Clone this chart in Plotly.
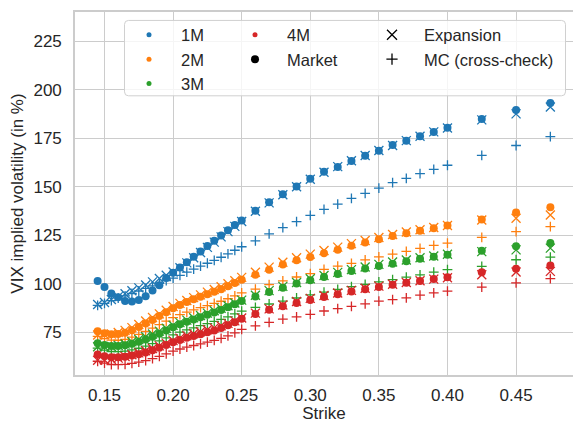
import plotly.graph_objects as go

# ---------------- data ----------------
strikes = [0.145, 0.150, 0.155, 0.160, 0.165, 0.170, 0.175, 0.180, 0.185, 0.190,
           0.195, 0.200, 0.205, 0.210, 0.215, 0.220, 0.225, 0.230, 0.235, 0.240,
           0.245, 0.250,
           0.26, 0.27, 0.28, 0.29, 0.30, 0.31, 0.32, 0.33, 0.34, 0.35, 0.36, 0.37,
           0.38, 0.39, 0.40,
           0.425, 0.45, 0.475]

maturities = ["1M", "2M", "3M", "4M"]

market_1m = [101.3, 98.2, 94.9, 93.0, 91.0, 90.8, 91.6, 93.5, 96.5, 99.1,
             102.9, 105.6, 108.3, 111.0, 113.8, 116.5, 119.4, 122.1, 124.8, 127.5,
             130.2, 132.5,
             137.5, 141.9, 146.0, 150.0, 154.0, 157.6, 160.1, 163.2, 165.9, 168.5,
             171.4, 173.6, 176.0, 178.1, 180.3,
             184.9, 189.5, 193.1]
expansion_1m = [89.2, 90.3, 91.8, 93.3, 94.8, 96.3, 97.8, 99.3, 100.9, 102.6,
                104.3, 106.0, 108.2, 110.7, 113.3, 116.0, 118.7, 121.4, 124.1, 126.8,
                129.5, 132.0,
                137.3, 141.6, 145.8, 149.9, 153.8, 157.4, 160.3, 163.3, 166.0, 168.6,
                171.2, 173.7, 176.0, 178.2, 180.2,
                184.4, 187.5, 191.0]
mc_1m = [88.8, 89.8, 91.2, 92.5, 93.7, 94.9, 96.2, 97.5, 98.8, 100.2,
         101.5, 102.8, 104.3, 105.9, 107.5, 109.0, 110.5, 112.0, 113.6, 115.3,
         117.2, 119.0,
         122.0, 125.6, 128.9, 132.0, 135.2, 138.3, 141.0, 143.9, 146.5, 149.2,
         152.1, 154.2, 156.7, 158.9, 161.0,
         166.1, 171.2, 175.8]

market_2m = [75.4, 74.4, 73.9, 74.0, 74.7, 76.0, 77.6, 79.4, 81.3, 83.3,
             85.3, 87.3, 89.0, 90.5, 91.9, 93.2, 94.5, 95.8, 97.1, 98.6,
             100.3, 102.0,
             104.6, 107.1, 109.8, 112.0, 113.7, 115.7, 117.5, 119.5, 121.2, 122.9,
             124.6, 126.0, 127.3, 128.6, 129.9,
             133.1, 136.6, 139.3]
expansion_2m = [73.5, 73.6, 74.0, 74.8, 75.9, 77.3, 78.9, 80.7, 82.5, 84.4,
                86.3, 88.2, 89.8, 91.3, 92.8, 94.2, 95.6, 97.0, 98.4, 99.9,
                101.5, 103.2,
                105.9, 108.5, 111.0, 113.3, 115.2, 117.1, 118.8, 120.6, 122.2, 123.8,
                125.3, 126.6, 127.8, 128.9, 130.0,
                132.8, 133.7, 135.4]
mc_2m = [72.8, 71.6, 70.9, 70.8, 71.3, 72.4, 73.8, 75.4, 77.1, 78.9,
         80.7, 82.5, 84.0, 85.3, 86.5, 87.6, 88.7, 89.8, 90.9, 92.2,
         93.7, 95.2,
         97.2, 99.5, 101.4, 103.4, 105.2, 107.3, 109.0, 110.4, 112.2, 113.8,
         115.2, 116.6, 118.2, 119.7, 120.9,
         123.8, 126.8, 129.4]

market_3m = [69.3, 68.3, 67.8, 67.8, 68.2, 69.0, 70.0, 71.2, 72.6, 74.1,
             75.8, 77.5, 79.0, 80.3, 81.5, 82.7, 83.9, 85.1, 86.4, 87.8,
             89.4, 91.0,
             93.3, 95.7, 97.9, 100.0, 101.7, 103.4, 105.0, 106.5, 107.8, 109.1,
             110.3, 111.5, 112.8, 113.8, 114.9,
             116.9, 119.2, 120.9]
expansion_3m = [67.5, 67.4, 67.6, 68.1, 68.9, 70.0, 71.2, 72.6, 74.0, 75.5,
                77.0, 78.5, 79.9, 81.2, 82.4, 83.6, 84.8, 86.0, 87.3, 88.6,
                90.0, 91.5,
                94.0, 96.4, 98.6, 100.6, 102.5, 104.2, 105.8, 107.2, 108.6, 109.9,
                111.1, 112.2, 113.3, 114.2, 115.1,
                116.5, 117.4, 118.3]
mc_3m = [66.8, 65.7, 65.0, 64.9, 65.2, 65.9, 66.7, 67.8, 69.1, 70.5,
         72.0, 73.6, 75.0, 76.2, 77.2, 78.3, 79.4, 80.5, 81.6, 82.9,
         84.4, 85.8,
         87.8, 89.5, 91.0, 92.6, 94.2, 95.6, 97.0, 98.4, 99.6, 100.9,
         102.1, 103.3, 104.5, 105.9, 107.2,
         108.9, 112.3, 113.7]

market_4m = [63.5, 62.6, 62.0, 62.0, 62.3, 62.9, 63.6, 64.5, 65.6, 66.9,
             68.3, 69.8, 71.0, 72.1, 73.0, 73.9, 74.9, 75.9, 77.1, 78.5,
             80.1, 81.9,
             84.4, 86.5, 88.3, 90.0, 91.6, 93.1, 94.5, 95.9, 97.1, 98.2,
             99.4, 100.4, 101.3, 102.4, 103.3,
             105.8, 107.7, 109.4]
expansion_4m = [60.5, 60.6, 61.0, 61.6, 62.4, 63.3, 64.3, 65.4, 66.6, 67.9,
                69.2, 70.6, 71.9, 73.1, 74.2, 75.2, 76.2, 77.2, 78.3, 79.5,
                80.8, 82.3,
                84.8, 87.0, 89.0, 90.8, 92.4, 93.9, 95.2, 96.5, 97.6, 98.7,
                99.7, 100.6, 101.5, 102.3, 103.0,
                104.6, 106.0, 106.3]
mc_4m = [60.0, 59.0, 58.3, 58.2, 58.4, 58.9, 59.5, 60.3, 61.3, 62.5,
         63.8, 65.2, 66.3, 67.3, 68.1, 68.9, 69.8, 70.7, 71.8, 73.1,
         74.6, 76.4,
         78.2, 80.0, 81.7, 82.9, 84.1, 85.9, 87.1, 88.3, 89.6, 91.0,
         91.8, 92.7, 94.1, 95.2, 96.1,
         98.2, 100.4, 102.6]

x_ticks = [0.15, 0.20, 0.25, 0.30, 0.35, 0.40, 0.45]
x_tick_labels = ["0.15", "0.20", "0.25", "0.30", "0.35", "0.40", "0.45"]
y_ticks = [75, 100, 125, 150, 175, 200, 225]
y_tick_labels = ["75", "100", "125", "150", "175", "200", "225"]

# ---------------- style ----------------
colors = ["#1f77b4", "#ff7f0e", "#2ca02c", "#d62728"]
FONT = "Liberation Sans, Arial, sans-serif"
TXT = "#262626"
GRID = "#cccccc"
W, H = 573, 423
ML, MR, MT, MB = 75, 0, 12, 45
PW, PH = W - ML - MR, H - MT - MB


def px_x(px):
    return (px - ML) / PW


def px_y(py):
    return (H - MB - py) / PH


series = {
    "1M": (market_1m, expansion_1m, mc_1m),
    "2M": (market_2m, expansion_2m, mc_2m),
    "3M": (market_3m, expansion_3m, mc_3m),
    "4M": (market_4m, expansion_4m, mc_4m),
}

fig = go.Figure()

for name, col in zip(maturities, colors):
    mkt, exp_, mc = series[name]
    fig.add_trace(go.Scatter(x=strikes, y=mkt, mode="markers", showlegend=False,
                             marker=dict(symbol="circle", size=8, color=col)))
    fig.add_trace(go.Scatter(x=strikes, y=exp_, mode="markers", showlegend=False,
                             marker=dict(symbol="x-thin", size=9,
                                         line=dict(color=col, width=1.3))))
    fig.add_trace(go.Scatter(x=strikes, y=mc, mode="markers", showlegend=False,
                             marker=dict(symbol="cross-thin", size=7,
                                         line=dict(color=col, width=1.3))))

# legend entries (three columns)
for name, col in zip(maturities[:3], colors[:3]):
    fig.add_trace(go.Scatter(x=[None], y=[None], mode="markers", name=name,
                             legend="legend",
                             marker=dict(symbol="circle", size=5, color=col)))
fig.add_trace(go.Scatter(x=[None], y=[None], mode="markers", name=maturities[3],
                         legend="legend2",
                         marker=dict(symbol="circle", size=5, color=colors[3])))
fig.add_trace(go.Scatter(x=[None], y=[None], mode="markers", name="Market",
                         legend="legend2",
                         marker=dict(symbol="circle", size=8, color="black")))
fig.add_trace(go.Scatter(x=[None], y=[None], mode="markers", name="Expansion",
                         legend="legend3",
                         marker=dict(symbol="x-thin", size=10,
                                     line=dict(color="black", width=1.3))))
fig.add_trace(go.Scatter(x=[None], y=[None], mode="markers", name="MC (cross-check)",
                         legend="legend3",
                         marker=dict(symbol="cross-thin", size=8,
                                     line=dict(color="black", width=1.3))))

# legend frame (rounded rectangle)
fx0, fx1, fy0, fy1, rr = 124.5, 565.5, 20.5, 96.5, 4


def P(x, y):
    return f"{px_x(x):.5f},{px_y(y):.5f}"


path = (f"M {P(fx0 + rr, fy0)} L {P(fx1 - rr, fy0)} Q {P(fx1, fy0)} {P(fx1, fy0 + rr)} "
        f"L {P(fx1, fy1 - rr)} Q {P(fx1, fy1)} {P(fx1 - rr, fy1)} "
        f"L {P(fx0 + rr, fy1)} Q {P(fx0, fy1)} {P(fx0, fy1 - rr)} "
        f"L {P(fx0, fy0 + rr)} Q {P(fx0, fy0)} {P(fx0 + rr, fy0)} Z")
fig.add_shape(type="path", path=path, xref="paper", yref="paper", layer="above",
              fillcolor="rgba(255,255,255,0.8)", line=dict(color="#d0d0d0", width=1))

leg_common = dict(orientation="v", xanchor="left", yanchor="top",
                  bgcolor="rgba(0,0,0,0)", borderwidth=0, itemwidth=54,
                  font=dict(family=FONT, size=16.5, color=TXT), tracegroupgap=0)
leg_top = px_y(17.5)

fig.update_layout(
    width=W, height=H,
    margin=dict(l=ML, r=MR, t=MT, b=MB),
    paper_bgcolor="white", plot_bgcolor="white",
    font=dict(family=FONT, size=17, color=TXT),
    legend=dict(x=px_x(117), y=leg_top, **leg_common),
    legend2=dict(x=px_x(223), y=leg_top, **leg_common),
    legend3=dict(x=px_x(360), y=leg_top, **leg_common),
    xaxis=dict(range=[0.1285, 0.4915], tickvals=x_ticks, ticktext=x_tick_labels,
               showgrid=True, gridcolor=GRID, gridwidth=1.3, zeroline=False,
               showline=True, linecolor=GRID, linewidth=1.6, mirror=True,
               ticks="", ticklabelstandoff=4,
               tickfont=dict(family=FONT, size=17, color=TXT),
               title=dict(text="Strike", standoff=6,
                          font=dict(family=FONT, size=17, color=TXT))),
    yaxis=dict(range=[52.9, 240.0], tickvals=y_ticks, ticktext=y_tick_labels,
               showgrid=True, gridcolor=GRID, gridwidth=1.3, zeroline=False,
               showline=True, linecolor=GRID, linewidth=1.6, mirror=False,
               ticks="", ticklabelstandoff=8,
               tickfont=dict(family=FONT, size=17, color=TXT),
               title=dict(text="VIX implied volatility (in %)", standoff=5,
                          font=dict(family=FONT, size=17, color=TXT))),
)

fig.write_html("out.html")
